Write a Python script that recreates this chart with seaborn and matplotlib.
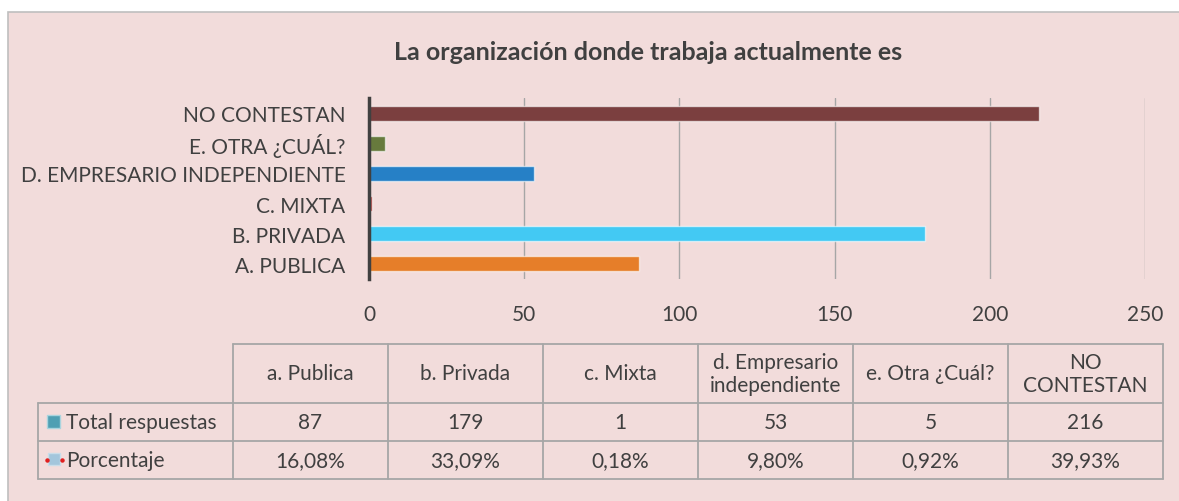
import matplotlib
matplotlib.use("Agg")
import matplotlib.pyplot as plt
import seaborn as sns
import pandas as pd
from matplotlib.patches import Rectangle

# datos
categorias = ["a. Publica", "b. Privada", "c. Mixta", "d. Empresario\nindependiente",
              "e. Otra ¿Cuál?", "NO\nCONTESTAN"]
etiquetas = ["A. PUBLICA", "B. PRIVADA", "C. MIXTA", "D. EMPRESARIO INDEPENDIENTE",
             "E. OTRA ¿CUÁL?", "NO CONTESTAN"]
total_respuestas = [87, 179, 1, 53, 5, 216]
porcentaje = [16.08, 33.09, 0.18, 9.80, 0.92, 39.93]
colores = ["#e67e29", "#43c9f3", "#c0504d", "#2680c6", "#677a3d", "#7b3f3f"]
ticks_x = [0, 50, 100, 150, 200, 250]
titulo = "La organización donde trabaja actualmente es"

df = pd.DataFrame({"categoria": etiquetas, "total": total_respuestas})

sns.set_style("white")
plt.rcParams["font.family"] = ["Lato", "DejaVu Sans"]
texto = "#404040"
rosa = "#f2dcdb"
fs = 15

W, H = 1179, 502
fig = plt.figure(figsize=(W / 100, H / 100), dpi=100, facecolor="white")

# fondo y tabla en coordenadas de pixel
bg = fig.add_axes([0, 0, 1, 1], zorder=-1)
bg.set_xlim(0, W)
bg.set_ylim(H, 0)
bg.axis("off")
bg.add_patch(Rectangle((8, 13), W + 20, H, facecolor=rosa, edgecolor="#bfbfbf", lw=1.2))

# grafico de barras
ax = fig.add_axes([369 / W, 1 - 280 / H, (1145 - 369) / W, 181 / H])
ax.set_facecolor("none")
orden = etiquetas[::-1]
sns.barplot(data=df, y="categoria", x="total", hue="categoria", order=orden,
            hue_order=etiquetas, palette=colores, legend=False, width=0.5,
            edgecolor=(1, 1, 1, 0.6), linewidth=1, saturation=1, ax=ax)
ax.set_xlim(0, 250)
ax.set_xticks(ticks_x)
ax.set_xlabel("")
ax.set_ylabel("")
ax.grid(axis="x", color="#a6a6a6", lw=1)
ax.set_axisbelow(True)
for s in ["top", "right", "bottom"]:
    ax.spines[s].set_visible(False)
ax.spines["left"].set_color(texto)
ax.spines["left"].set_linewidth(2.5)
ax.tick_params(axis="both", length=0, labelsize=fs, colors=texto)
ax.tick_params(axis="y", pad=17)
ax.tick_params(axis="x", pad=18)

fig.text(648 / W, 1 - 53 / H, titulo, ha="center", va="center",
         fontsize=18, fontweight="bold", color=texto)

# tabla de datos
xs = [233, 388, 543, 698, 853, 1008, 1163]
ys = [345, 404, 442, 480]
lc = "#a6a6a6"
bg.plot([xs[0], xs[-1]], [ys[0], ys[0]], color=lc, lw=1.3)
for y in ys[1:]:
    bg.plot([38, xs[-1]], [y, y], color=lc, lw=1.3)
for x in xs:
    bg.plot([x, x], [ys[0], ys[-1]], color=lc, lw=1.3)
bg.plot([38, 38], [ys[1], ys[-1]], color=lc, lw=1.3)

for i, cat in enumerate(categorias):
    cx = (xs[i] + xs[i + 1]) / 2
    bg.text(cx, (ys[0] + ys[1]) / 2, cat, ha="center", va="center",
            fontsize=fs, color=texto, linespacing=1.15)
    bg.text(cx, (ys[1] + ys[2]) / 2, str(total_respuestas[i]), ha="center",
            va="center", fontsize=fs, color=texto)
    bg.text(cx, (ys[2] + ys[3]) / 2, f"{porcentaje[i]:.2f}%".replace(".", ","),
            ha="center", va="center", fontsize=fs, color=texto)

# leyenda de filas
bg.add_patch(Rectangle((47, 416), 13, 13, facecolor="#4f9fb3", edgecolor="#a9d4de", lw=1))
bg.text(66, (ys[1] + ys[2]) / 2, "Total respuestas", ha="left", va="center",
        fontsize=fs, color=texto)
bg.add_patch(Rectangle((48, 454), 12, 12, facecolor="#a3c6dc", edgecolor="#c9dde9", lw=1))
bg.plot([46.5, 61.5], [461, 461], ls="none", marker="o", ms=2.2, color="#e02020")
bg.text(66, (ys[2] + ys[3]) / 2, "Porcentaje", ha="left", va="center",
        fontsize=fs, color=texto)

fig.savefig("out.png", dpi=100, facecolor="white")
